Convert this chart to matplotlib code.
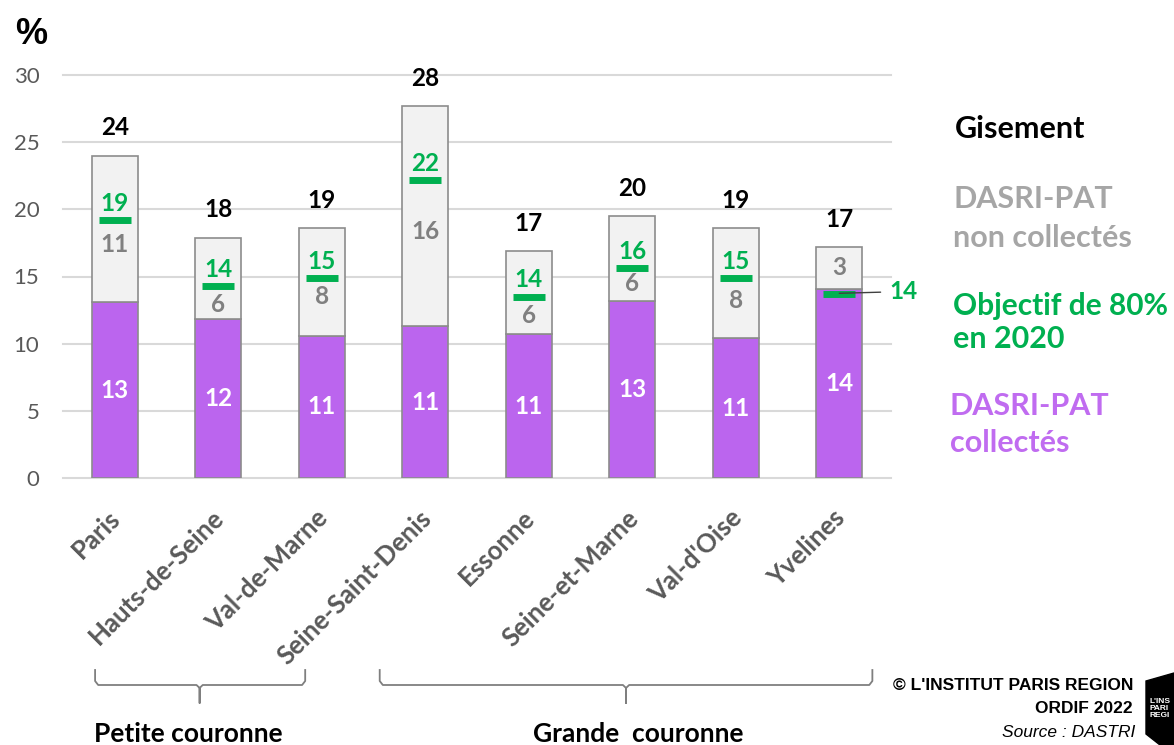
import matplotlib
matplotlib.use("Agg")
import matplotlib.pyplot as plt
from matplotlib.patches import Polygon
from matplotlib.transforms import ScaledTranslation

# values (%)
departements = ["Paris", "Hauts-de-Seine", "Val-de-Marne", "Seine-Saint-Denis",
                "Essonne", "Seine-et-Marne", "Val-d'Oise", "Yvelines"]
collectes = [13.1, 11.8, 10.6, 11.3, 10.7, 13.2, 10.4, 14.1]
non_collectes = [10.9, 6.1, 8.0, 16.4, 6.2, 6.3, 8.2, 3.1]
objectif = [19.2, 14.3, 14.9, 22.2, 13.5, 15.6, 14.9, 13.7]

# labels as printed on the chart
collectes_lbl = ["13", "12", "11", "11", "11", "13", "11", "14"]
non_collectes_lbl = ["11", "6", "8", "16", "6", "6", "8", "3"]
gisement_lbl = ["24", "18", "19", "28", "17", "20", "19", "17"]
objectif_lbl = ["19", "14", "15", "22", "14", "16", "15", "14"]
yticks = [0, 5, 10, 15, 20, 25, 30]

# colours
PURPLE = "#bb65ee"
LIGHT = "#f2f2f2"
EDGE = "#8c8c8c"
GREEN = "#00b050"
GREY_TXT = "#808080"
AXIS_TXT = "#595959"
GRID = "#d9d9d9"

W, H = 1174, 745
plt.rcParams['font.family'] = ['Lato', 'DejaVu Sans']

fig = plt.figure(figsize=(W / 100, H / 100), dpi=100)
ax = fig.add_axes([63 / W, (H - 478) / H, 828 / W, 403 / H])


def px(x, y):
    # pixel position (from top left) -> figure fraction
    return x / W, 1 - y / H


x = list(range(len(departements)))
bw = 0.445

# gridlines
for t in yticks:
    ax.axhline(t, color=GRID, lw=1.5, zorder=0, clip_on=False)

ax.bar(x, collectes, width=bw, color=PURPLE, edgecolor=EDGE, lw=1.2, zorder=2)
ax.bar(x, non_collectes, width=bw, bottom=collectes, color=LIGHT,
       edgecolor=EDGE, lw=1.2, zorder=2)
ax.hlines(objectif, [i - 0.155 for i in x], [i + 0.155 for i in x],
          color=GREEN, lw=5, zorder=4)

# gap between target mark and grey value (layout only)
gap = [1.85, 1.4, 1.4, 3.85, 1.4, 1.15, 1.65, None]

for i in x:
    tot = collectes[i] + non_collectes[i]
    ax.annotate(gisement_lbl[i], (i, tot), xytext=(0, 20), textcoords="offset points",
                ha="center", va="center", fontsize=17.5, fontweight="bold", color="black")
    ax.text(i, collectes[i] / 2, collectes_lbl[i], ha="center", va="center",
            fontsize=17.5, fontweight="bold", color="white", zorder=5)
    if gap[i] is None:
        gy = collectes[i] + non_collectes[i] / 2
    else:
        gy = objectif[i] - gap[i]
    ax.text(i, gy, non_collectes_lbl[i], ha="center", va="center",
            fontsize=17.5, fontweight="bold", color=GREY_TXT, zorder=5)
    if i < len(x) - 1:
        ax.annotate(objectif_lbl[i], (i, objectif[i]), xytext=(0, 12),
                    textcoords="offset points", ha="center", va="center",
                    fontsize=17.5, fontweight="bold", color=GREEN, zorder=5)

# last target label sits outside with a leader line
last = len(x) - 1
ax.annotate(objectif_lbl[last], (last, objectif[last] + 0.05), xytext=(last + 0.48, objectif[last] + 0.15),
            ha="left", va="center", fontsize=17.5, fontweight="bold", color=GREEN,
            annotation_clip=False,
            arrowprops=dict(arrowstyle="-", color="#404040", lw=1, shrinkA=4, shrinkB=0,
                            relpos=(0, 0.5)), zorder=6)

ax.set_xlim(-0.5, 7.5)
ax.set_ylim(0, 30)
ax.set_yticks(yticks)
ax.set_yticklabels([str(t) for t in yticks], fontsize=16, color=AXIS_TXT)
ax.set_xticks(x)
ax.set_xticklabels(departements, rotation=45, ha="right", va="center",
                   rotation_mode="anchor", fontsize=18.5, fontweight="bold", color=AXIS_TXT)
ax.tick_params(axis="y", length=0, pad=17)
ax.tick_params(axis="x", length=0, pad=26)
off = ScaledTranslation(2 / 100, 0, fig.dpi_scale_trans)
for lab in ax.get_xticklabels():
    lab.set_transform(lab.get_transform() + off)
for s in ax.spines.values():
    s.set_visible(False)

# "%" unit
fig.text(*px(15, 44), "%", fontsize=26, fontweight="bold", family="Liberation Sans",
         ha="left", va="baseline")

# legend on the right
fig.text(*px(955, 138), "Gisement", fontsize=22, fontweight="bold", color="black", va="baseline")
fig.text(*px(953, 208), "DASRI-PAT", fontsize=22, fontweight="bold", color="#a6a6a6", va="baseline")
fig.text(*px(953, 247), "non collectés", fontsize=22, fontweight="bold", color="#a6a6a6", va="baseline")
fig.text(*px(953, 315), "Objectif de 80%", fontsize=21.5, fontweight="bold", color=GREEN, va="baseline")
fig.text(*px(953, 348), "en 2020", fontsize=22, fontweight="bold", color=GREEN, va="baseline")
fig.text(*px(950, 415), "DASRI-PAT", fontsize=22, fontweight="bold", color="#c06cf0", va="baseline")
fig.text(*px(950, 452), "collectés", fontsize=22, fontweight="bold", color="#c06cf0", va="baseline")

# brackets under the departement names
tr = ax.get_xaxis_transform()


def yf(ypx):
    return (478 - ypx) / 403


def bracket(x0, x1, xc):
    d = 0.03
    xs = [x0, x0, x0 + d, xc - d, xc, xc, xc, xc + d, x1 - d, x1, x1]
    ys = [670, 681, 685, 685, 688, 703, 688, 685, 685, 681, 670]
    ax.plot(xs, [yf(v) for v in ys], transform=tr, color="#7f7f7f", lw=1.3, clip_on=False)


bracket(-0.19, 1.84, 0.82)
bracket(2.56, 7.32, 4.94)

fig.text(*px(188, 742), "Petite couronne", fontsize=19, fontweight="bold", ha="center", va="baseline")
fig.text(*px(638, 742), "Grande  couronne", fontsize=19, fontweight="bold", ha="center", va="baseline")

# credits
fig.text(*px(1133, 690), "© L'INSTITUT PARIS REGION", family="Liberation Sans", fontsize=12.5,
         fontweight="bold", ha="right", va="baseline")
fig.text(*px(1133, 713), "ORDIF 2022", family="Liberation Sans", fontsize=12.5,
         fontweight="bold", ha="right", va="baseline")
fig.text(*px(1135, 737), "Source : DASTRI", family="Liberation Sans", fontsize=12.5,
         style="italic", ha="right", va="baseline")

# logo corner (only its left part is in the picture)
logo = Polygon([px(1146, 681), px(1174, 673), px(1174, 745), px(1160, 745), px(1146, 734)],
               closed=True, transform=fig.transFigure, color="black")
fig.add_artist(logo)
fig.text(*px(1149, 717), "L'INS\nPARI\nREGI", family="Liberation Sans", fontsize=6,
         fontweight="bold", color="white", ha="left", va="baseline", linespacing=1.0)

fig.savefig("out.png", dpi=100)
